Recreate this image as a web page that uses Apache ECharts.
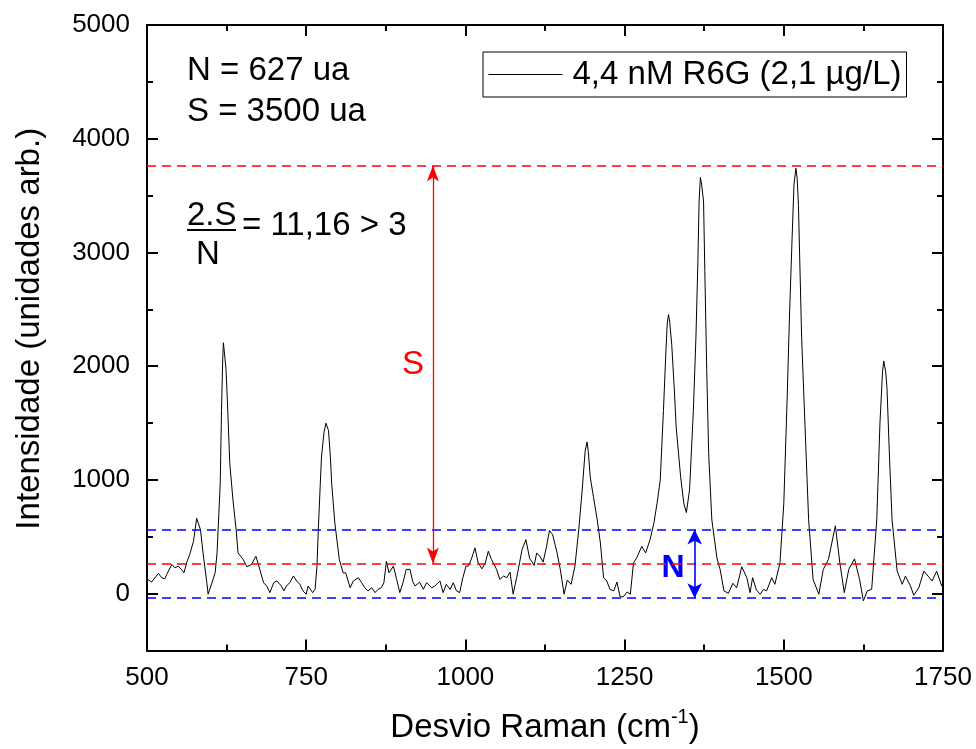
<!DOCTYPE html>
<html>
<head>
<meta charset="utf-8">
<script src="https://cdn.jsdelivr.net/npm/echarts@6/dist/echarts.min.js"></script>
<style>html,body{margin:0;padding:0;background:#fff}#c{width:976px;height:749px}</style>
</head>
<body>
<div id="c"></div>
<script>
const ramanShift = [500,502,507,518,523,528,531,539,544,549,554,558,563,567,573,578,581,584,588,594,596,602,607,610,612,615,617,619,620,622,624,626,630,635,640,643,651,657,664,671,675,683,688,693,699,704,711,715,719,724,730,735,740,745,750,753,756,760,764,767,769,772,774,778,781,785,788,790,795,802,808,812,819,824,832,837,842,847,853,858,863,868,872,876,880,887,892,897,902,907,913,917,921,928,934,939,947,952,960,965,970,976,981,986,991,996,1001,1005,1010,1015,1020,1026,1031,1036,1041,1049,1054,1060,1065,1070,1075,1081,1085,1089,1095,1101,1104,1108,1112,1117,1122,1127,1132,1137,1144,1149,1155,1160,1166,1172,1178,1183,1188,1191,1193,1196,1201,1207,1212,1217,1222,1227,1233,1238,1243,1248,1254,1259,1264,1269,1277,1283,1290,1296,1301,1306,1311,1315,1317,1319,1321,1324,1328,1331,1338,1343,1347,1352,1358,1362,1365,1367,1369,1371,1374,1376,1379,1382,1387,1395,1400,1406,1413,1420,1426,1434,1442,1447,1451,1457,1463,1468,1473,1481,1486,1494,1500,1505,1509,1513,1516,1519,1521,1523,1528,1534,1539,1546,1555,1562,1570,1581,1588,1595,1602,1611,1619,1625,1631,1638,1646,1651,1655,1657,1660,1662,1666,1670,1678,1686,1691,1699,1704,1712,1720,1733,1740,1748,1750];
const intensity = [130,140,102,178,140,131,169,256,227,242,213,183,285,343,460,663,649,562,358,96,-5,96,183,358,600,969,1610,2080,2206,2191,1980,1726,1144,824,562,358,300,236,256,329,256,96,67,9,96,111,67,24,67,96,155,111,82,24,-5,67,82,9,38,250,562,950,1202,1420,1499,1435,1200,969,620,300,183,183,52,111,140,96,52,24,52,9,38,52,96,285,183,242,125,9,96,213,213,111,67,101,38,96,52,67,111,9,82,38,96,24,9,140,242,244,314,402,271,218,265,373,300,213,125,154,140,189,-5,154,271,388,475,306,285,248,358,329,277,402,556,518,358,213,-5,120,82,242,562,882,1250,1333,1250,1027,853,649,445,140,111,38,24,102,-29,-27,15,-5,271,314,416,358,475,620,794,999,1610,2150,2380,2453,2380,2191,1800,1464,1027,794,713,911,1610,2250,2900,3450,3660,3600,3443,2832,1959,1231,649,314,213,24,3,91,52,236,140,9,140,32,-5,38,24,140,82,271,794,1667,2450,3123,3600,3740,3650,3413,2250,1377,649,125,-5,213,300,597,271,9,213,306,125,-64,24,38,649,1500,1950,2046,1950,1813,1200,649,198,82,154,67,-14,52,198,111,198,67,80];

const xTickStep = 250;
const yMajorTicks = [0, 1000, 2000, 3000, 4000, 5000];
const yMinorTicks = [-500, 500, 1500, 2500, 3500, 4500];
const redLevels = [3765, 265];
const blueLevels = [565, -40];
const sArrowX = 949;
const nArrowX = 1360;
const seriesName = '4,4 nM R6G (2,1 µg/L)';
const noteLines = ['N = 627 ua', 'S = 3500 ua'];
const ratioNumerator = '2.S';
const ratioDenominator = 'N';
const ratioText = '= 11,16 > 3';

const FONT = '"Liberation Sans", Arial, sans-serif';
const chart = echarts.init(document.getElementById('c'), null, {renderer: 'canvas'});

const axisLine = {show: true, onZero: false, lineStyle: {color: '#000', width: 2}};
const tickStyle = {color: '#000', width: 2};
const plainNum = (v) => String(v);

function yAx(pos, ticks, len, withLabels) {
  return {
    type: 'value', position: pos, min: -500, max: 5000, interval: 500, offset: 0,
    axisLine: withLabels !== null ? axisLine : {show: false},
    axisTick: {show: true, inside: true, length: len, customValues: ticks, lineStyle: tickStyle},
    axisLabel: withLabels ? {show: true, customValues: yMajorTicks, formatter: plainNum, color: '#000', fontSize: 26, fontFamily: FONT, margin: 17} : {show: false},
    splitLine: {show: false}
  };
}

const yAxes = [
  Object.assign(yAx('left', yMajorTicks, 11, true), {
    name: 'Intensidade (unidades arb.)', nameLocation: 'middle', nameGap: 101,
    nameTextStyle: {color: '#000', fontSize: 33, fontFamily: FONT, lineHeight: 33, padding: [0, 0, 0, 18]}
  }),
  yAx('left', yMinorTicks, 6, null),
  yAx('right', yMajorTicks, 11, false),
  yAx('right', yMinorTicks, 6, null)
];

function xAx(pos, labels) {
  const a = {
    type: 'value', position: pos, min: 500, max: 1750, interval: xTickStep,
    axisLine: axisLine,
    axisTick: {show: true, inside: true, length: 11, lineStyle: tickStyle},
    minorTick: {show: true, splitNumber: 2, length: 6, lineStyle: tickStyle},
    axisLabel: labels ? {show: true, formatter: plainNum, color: '#000', fontSize: 26, fontFamily: FONT, margin: 14} : {show: false},
    splitLine: {show: false}, minorSplitLine: {show: false}
  };
  if (labels) {
    a.name = '{a|Desvio Raman (cm}{b|-1}{a|)}';
    a.nameLocation = 'middle';
    a.nameGap = 57;
    a.nameTextStyle = {color: '#000', fontFamily: FONT, rich: {
      a: {fontSize: 33, lineHeight: 40, fontFamily: FONT, color: '#000'},
      b: {fontSize: 20, verticalAlign: 'top', fontFamily: FONT, color: '#000'}
    }};
  }
  return a;
}

const dashRed = {color: '#ff0000', type: [9, 6], width: 1.5};
const dashBlue = {color: '#0000ff', type: [9, 6], width: 1.5};
const arrowRed = {color: '#ff0000', type: 'solid', width: 1.3};
const arrowBlue = {color: '#0000ff', type: 'solid', width: 1.6};

const option = {
  animation: false,
  backgroundColor: '#fff',
  grid: {left: 147, right: 33, top: 25, bottom: 94, containLabel: false},
  xAxis: [xAx('bottom', true), xAx('top', false)],
  yAxis: yAxes,
  legend: {
    show: true,
    data: [{name: seriesName}], left: 483, top: 52,
    padding: [5, 5, 5, 5], borderColor: '#000', borderWidth: 1, borderRadius: 0,
    itemWidth: 74, itemHeight: 14,
    itemStyle: {opacity: 0, borderWidth: 0},
    lineStyle: {color: '#000', width: 1, opacity: 1},
    textStyle: {color: '#000', fontSize: 33, fontFamily: FONT, lineHeight: 35, padding: [0, 0, 0, 5]},
    selectedMode: false
  },
  series: [{
    name: seriesName, type: 'line', xAxisIndex: 0, yAxisIndex: 0,
    data: ramanShift.map((x, i) => [x, intensity[i]]),
    showSymbol: false, symbol: 'none',
    lineStyle: {color: '#000', width: 1}, itemStyle: {color: '#000'},
    markLine: {
      silent: true, animation: false, symbol: 'none', label: {show: false},
      data: [
        {yAxis: redLevels[0], lineStyle: dashRed},
        {yAxis: redLevels[1], lineStyle: dashRed},
        {yAxis: blueLevels[0], lineStyle: dashBlue},
        {yAxis: blueLevels[1], lineStyle: dashBlue},
        [{coord: [sArrowX, redLevels[0]], symbol: 'arrow', symbolSize: [9, 16], lineStyle: arrowRed, itemStyle: {color: '#ff0000'}},
         {coord: [sArrowX, redLevels[1]], symbol: 'arrow', symbolSize: [9, 16], lineStyle: arrowRed, itemStyle: {color: '#ff0000'}}],
        [{coord: [nArrowX, blueLevels[0]], symbol: 'arrow', symbolSize: [11, 15], lineStyle: arrowBlue, itemStyle: {color: '#0000ff'}},
         {coord: [nArrowX, blueLevels[1]], symbol: 'arrow', symbolSize: [11, 15], lineStyle: arrowBlue, itemStyle: {color: '#0000ff'}}]
      ]
    }
  }],
  graphic: [
    {type: 'text', x: 187, y: 71, style: {text: noteLines[0], font: '33px ' + FONT, fill: '#000', align: 'left', verticalAlign: 'middle'}},
    {type: 'text', x: 187, y: 112, style: {text: noteLines[1], font: '33px ' + FONT, fill: '#000', align: 'left', verticalAlign: 'middle'}},
    {type: 'text', x: 187, y: 216, style: {text: ratioNumerator, font: '33px ' + FONT, fill: '#000', align: 'left', verticalAlign: 'middle'}},
    {type: 'line', shape: {x1: 187, y1: 230, x2: 236, y2: 230}, style: {stroke: '#000', lineWidth: 2}},
    {type: 'text', x: 196, y: 255, style: {text: ratioDenominator, font: '33px ' + FONT, fill: '#000', align: 'left', verticalAlign: 'middle'}},
    {type: 'text', x: 242, y: 226, style: {text: ratioText, font: '33px ' + FONT, fill: '#000', align: 'left', verticalAlign: 'middle'}},
    {type: 'text', x: 413, y: 365, style: {text: 'S', font: '33px ' + FONT, fill: '#ff0000', align: 'center', verticalAlign: 'middle'}},
    {type: 'text', x: 673, y: 568, style: {text: 'N', font: 'bold 32px ' + FONT, fill: '#0000ff', align: 'center', verticalAlign: 'middle'}}
  ]
};
chart.setOption(option);
</script>
</body>
</html>
